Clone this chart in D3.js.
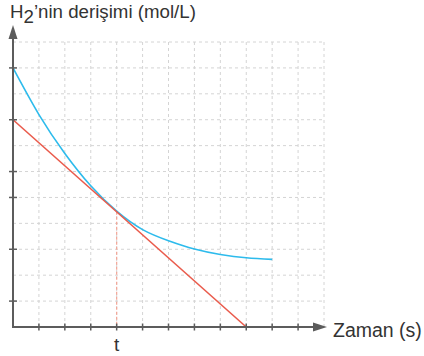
<!DOCTYPE html>
<html><head><meta charset="utf-8">
<script src="https://cdn.jsdelivr.net/npm/d3@7"></script>
<style>body{margin:0;background:#fff}svg{display:block}</style>
</head><body>
<script>
// Data (grid units)
const timeSteps = [0,1,2,3,4,5,6,7,8,9,10];
const h2Conc = [10, 8.2, 6.7, 5.45, 4.47, 3.76, 3.33, 3.01, 2.8, 2.67, 2.61];
const tangentX = [0, 9];
const tangentY = [8, 0];
const tValue = 4;
const xTicks = [1,2,3,4,5,6,7,8,9,10,11];
const yTicks = [1,3,5,6,8,10];
const xGrid = [1,2,3,4,5,6,7,8,9,10,11,12];
const yGrid = [1,2,3,4,5,6,7,8,9,10,11];
const yTitle = "’nin derişimi (mol/L)";
const xTitle = "Zaman (s)";

const W = 424, H = 356;
const svg = d3.select("body").append("svg").attr("width", W).attr("height", H);
const x = d3.scaleLinear().domain([0,12]).range([13, 324]);
const y = d3.scaleLinear().domain([0,11]).range([327, 42]);
const axisCol = "#5c5c5c", gridCol = "#d4d4d4";

// grid
svg.append("g").selectAll("line").data(yGrid).join("line")
  .attr("x1", x(0)).attr("x2", x(12)).attr("y1", d=>y(d)).attr("y2", d=>y(d))
  .attr("stroke", gridCol).attr("stroke-width",1).attr("stroke-dasharray","3,3");
svg.append("g").selectAll("line").data(xGrid).join("line")
  .attr("x1", d=>x(d)).attr("x2", d=>x(d)).attr("y1", y(0)).attr("y2", y(11))
  .attr("stroke", gridCol).attr("stroke-width",1).attr("stroke-dasharray","3,3");

// t guide
const tangentAt = v => tangentY[0] + (tangentY[1]-tangentY[0])*(v-tangentX[0])/(tangentX[1]-tangentX[0]);
svg.append("line").attr("x1", x(tValue)).attr("x2", x(tValue))
  .attr("y1", y(tangentAt(tValue))).attr("y2", y(0))
  .attr("stroke", "#f4a596").attr("stroke-width",1.2).attr("stroke-dasharray","3,2");

// curve
svg.append("path").datum(timeSteps.map((t,i)=>[t,h2Conc[i]]))
  .attr("d", d3.line().x(d=>x(d[0])).y(d=>y(d[1])).curve(d3.curveNatural))
  .attr("fill","none").attr("stroke","#2dbbec").attr("stroke-width",1.6);
// tangent
svg.append("path").datum(tangentX.map((t,i)=>[t,tangentY[i]]))
  .attr("d", d3.line().x(d=>x(d[0])).y(d=>y(d[1])))
  .attr("fill","none").attr("stroke","#ea5b4c").attr("stroke-width",1.6);

// axes
svg.append("line").attr("x1", x(0)).attr("x2", 316).attr("y1", y(0)).attr("y2", y(0))
  .attr("stroke", axisCol).attr("stroke-width",2);
svg.append("line").attr("x1", x(0)).attr("x2", x(0)).attr("y1", y(0)+1).attr("y2", 34)
  .attr("stroke", axisCol).attr("stroke-width",2);
svg.append("path").attr("d", `M327,${y(0)} L313,${y(0)-4.5} L313,${y(0)+4.5} Z`).attr("fill", axisCol);
svg.append("path").attr("d", `M${x(0)},25 L${x(0)-4.5},39 L${x(0)+4.5},39 Z`).attr("fill", axisCol);

// ticks
svg.append("g").selectAll("line").data(xTicks).join("line")
  .attr("x1", d=>x(d)).attr("x2", d=>x(d)).attr("y1", y(0)-3.5).attr("y2", y(0)+3.5)
  .attr("stroke", axisCol).attr("stroke-width",1.5);
svg.append("g").selectAll("line").data(yTicks).join("line")
  .attr("x1", x(0)-4).attr("x2", x(0)+4).attr("y1", d=>y(d)).attr("y2", d=>y(d))
  .attr("stroke", axisCol).attr("stroke-width",1.5);

// labels
const font = "'Liberation Sans', Arial, sans-serif";
const tt = svg.append("text").attr("x", 10).attr("y", 17.5)
  .attr("font-family", font).attr("font-size", 18.7).attr("fill", "#333");
tt.append("tspan").text("H");
tt.append("tspan").attr("dy", 5).text("2");
tt.append("tspan").attr("dy", -5).text(yTitle);
svg.append("text").attr("x", 333).attr("y", 337).attr("font-family", font)
  .attr("font-size", 19.5).attr("fill", "#333").text(xTitle);
svg.append("text").attr("x", x(tValue)).attr("y", 351).attr("text-anchor","middle")
  .attr("font-family", font).attr("font-size", 19).attr("fill", "#333").text("t");
</script>
</body></html>
